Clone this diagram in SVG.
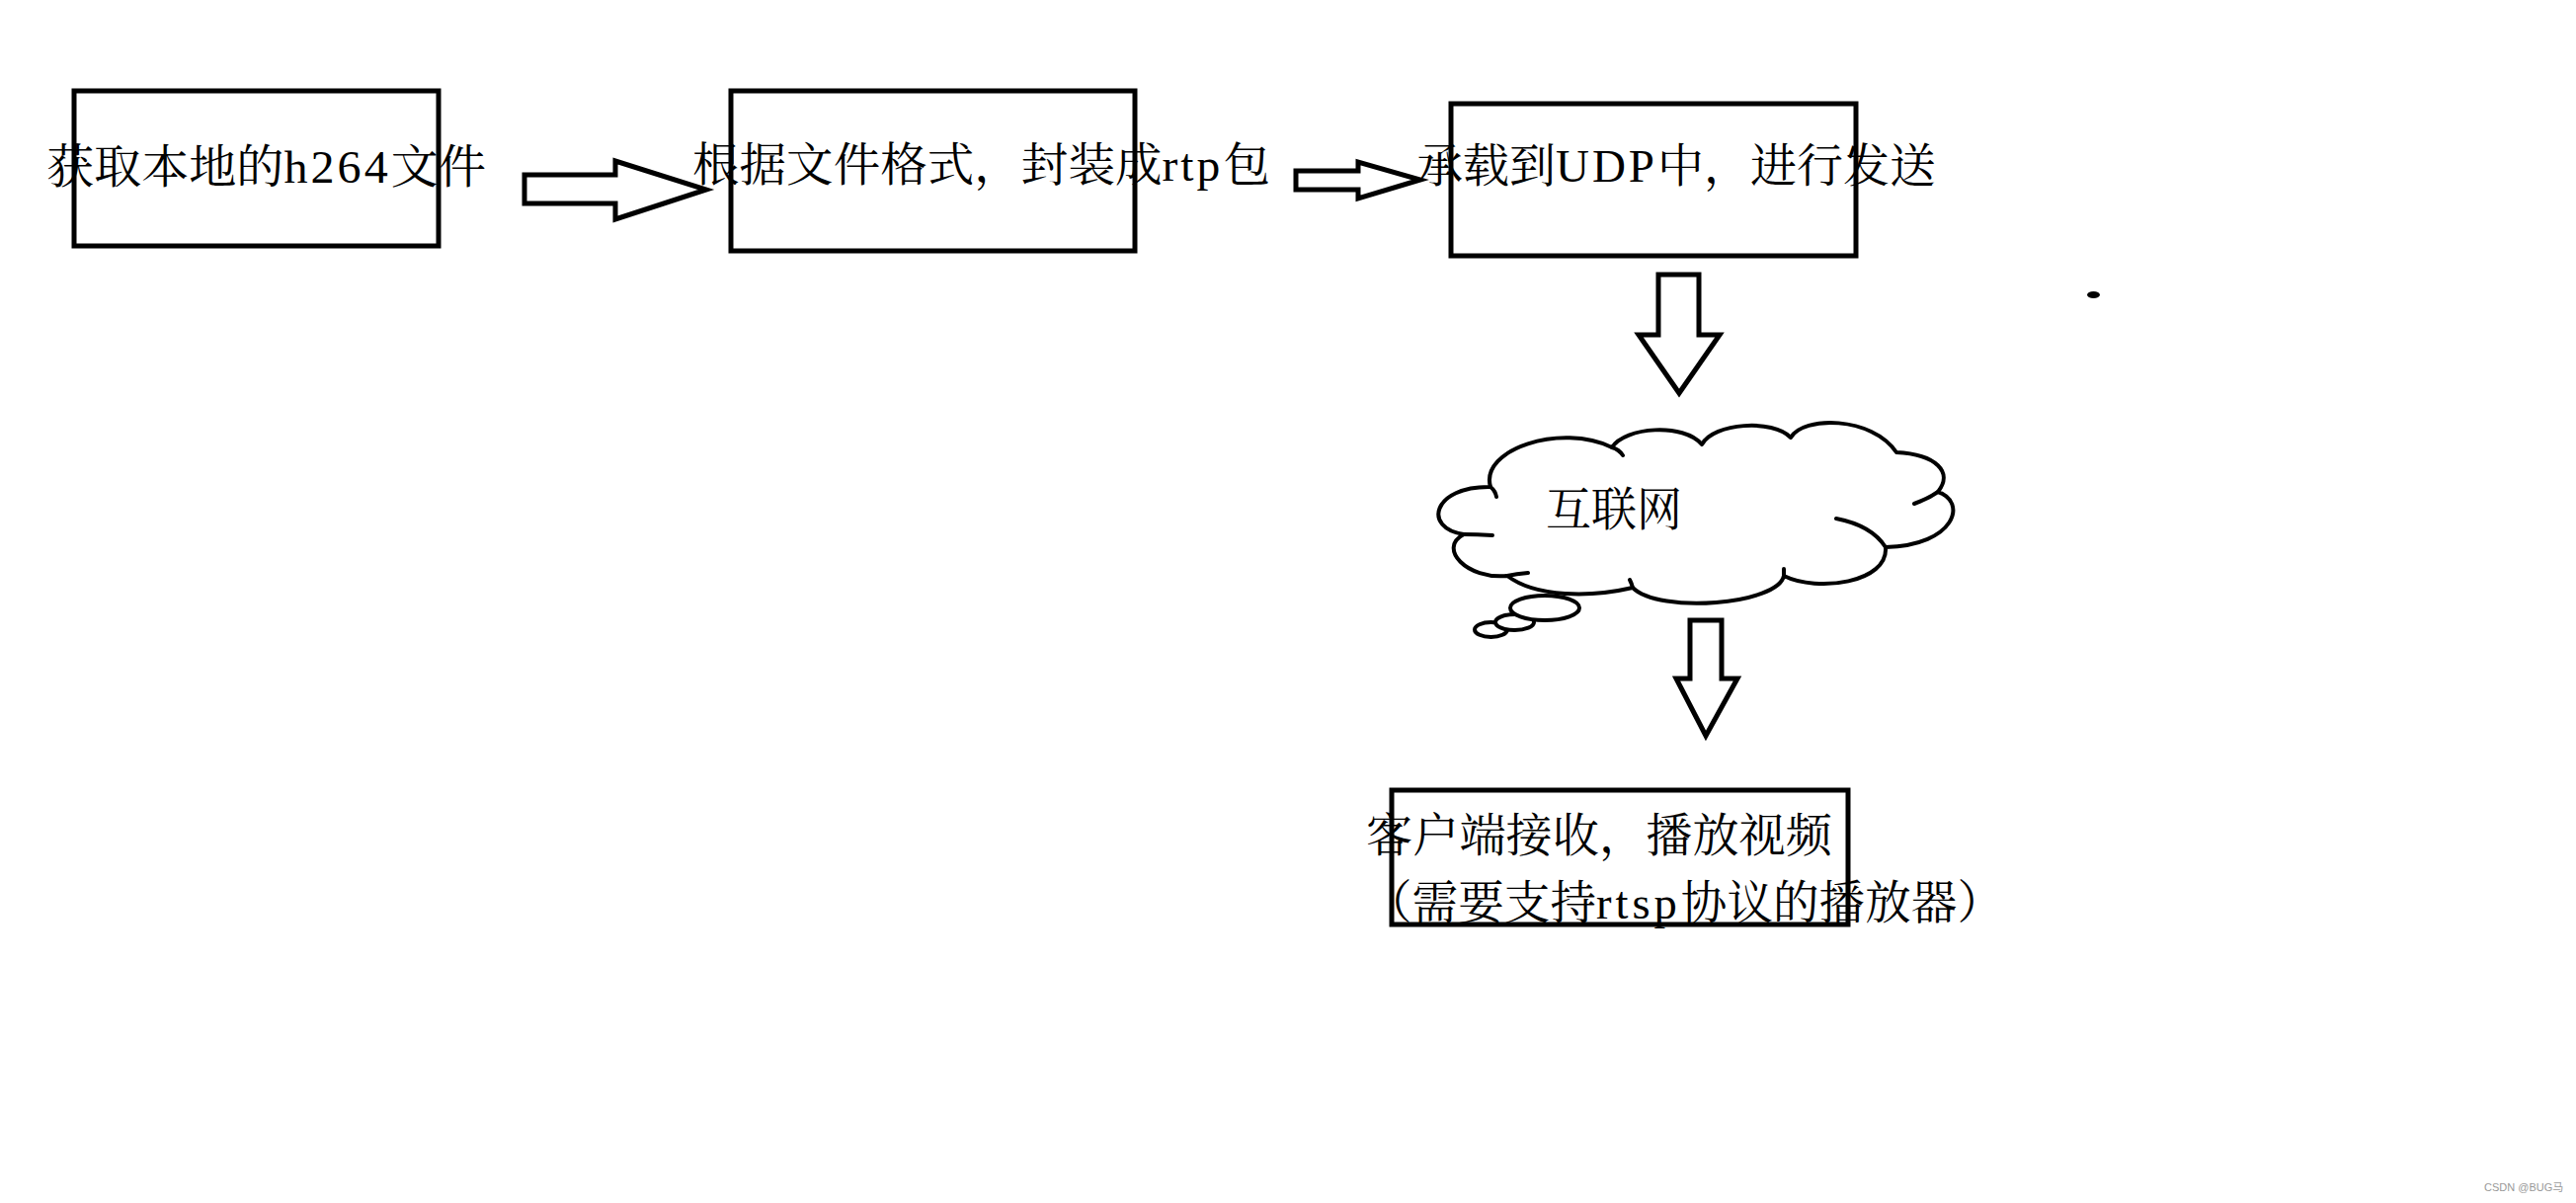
<svg xmlns="http://www.w3.org/2000/svg" width="2608" height="1218" viewBox="0 0 2608 1218">
<style>
.box{fill:none;stroke:#000;stroke-width:5}
.arr{fill:#fff;stroke:#000;stroke-width:5;stroke-linejoin:miter}
.cl{fill:#fff;stroke:#000;stroke-width:4;stroke-linejoin:round}
.tl{fill:none;stroke:#000;stroke-width:4;stroke-linecap:round}
.t{font-family:"Liberation Serif","Noto Serif CJK SC","Noto Sans CJK SC",serif;font-size:47px;fill:#000}
.lt{font-size:47px;letter-spacing:3px}
.wm{font-family:"Liberation Sans","Noto Sans CJK SC",sans-serif;font-size:11px;fill:#999}
</style>
<rect width="2608" height="1218" fill="#fff"/>
<g id="node-file">
<rect class="box" x="75" y="92" width="369" height="157"/>
<text class="t" x="47" y="185" textLength="445" lengthAdjust="spacingAndGlyphs">获取本地的<tspan class="lt">h264</tspan>文件</text>
</g>
<g id="node-rtp">
<rect class="box" x="740" y="92" width="409" height="162"/>
<text class="t" x="701" y="183" textLength="585" lengthAdjust="spacingAndGlyphs">根据文件格式，封装成<tspan class="lt">rtp</tspan>包</text>
</g>
<g id="node-udp">
<rect class="box" x="1469" y="105" width="410" height="154"/>
<text class="t" x="1434" y="184" textLength="526" lengthAdjust="spacingAndGlyphs">承载到<tspan class="lt">UDP</tspan>中，进行发送</text>
</g>
<g id="node-internet">
<path class="cl" d="M 1509 493 C 1498 455 1580 428 1632 453 C 1645 432 1705 428 1723 450 C 1735 428 1795 424 1813 443 C 1825 421 1895 421 1920 458 C 1960 460 1978 478 1962 498 C 1992 508 1980 552 1909 554 C 1912 590 1840 600 1806 583 C 1800 612 1680 622 1653 595 C 1610 605 1555 605 1526 583 C 1485 587 1455 555 1482 541 C 1440 535 1450 492 1509 493 Z"/>
<path class="tl" d="M 1509 493 Q 1514 497 1515 503 M 1632 453 Q 1639 455 1643 461 M 1962 498 Q 1952 505 1938 510 M 1859 525 Q 1895 532 1909 554 M 1806 576 L 1806 583 M 1650 587 Q 1652 591 1653 595 M 1547 580 Q 1535 581 1526 583 M 1511 542 Q 1495 541 1482 541"/>
<ellipse class="cl" cx="1509.5" cy="637.5" rx="16.5" ry="7.5"/>
<ellipse class="cl" cx="1533.5" cy="630" rx="19.5" ry="8"/>
<ellipse class="cl" cx="1564" cy="615.5" rx="35" ry="12.5"/>
<text class="t" x="1565" y="532" textLength="138" lengthAdjust="spacingAndGlyphs">互联网</text>
</g>
<g id="node-client">
<rect class="box" x="1409" y="800" width="462" height="136"/>
<text class="t" x="1383" y="862" textLength="472" lengthAdjust="spacingAndGlyphs">客户端接收，播放视频</text>
<text class="t" x="1383" y="930" textLength="645" lengthAdjust="spacingAndGlyphs">（需要支持<tspan class="lt" style="letter-spacing:4px">rtsp</tspan>协议的播放器）</text>
</g>
<g id="connectors">
<polygon class="arr" points="531,177 623,177 623,163 715,192 623,222 623,206 531,206"/>
<polygon class="arr" points="1312,173 1375,173 1375,164 1438,182 1375,201 1375,192 1312,192"/>
<polygon class="arr" points="1679,278 1720,278 1720,339 1741,339 1700,398 1659,339 1679,339"/>
<polygon class="arr" points="1711,628 1743,628 1743,687 1759,687 1727,745 1697,687 1711,687"/>
</g>
<ellipse cx="2119.5" cy="298.5" rx="6.5" ry="3.5" fill="#000"/>
<text class="wm" x="2515" y="1206">CSDN @BUG马</text>
</svg>
